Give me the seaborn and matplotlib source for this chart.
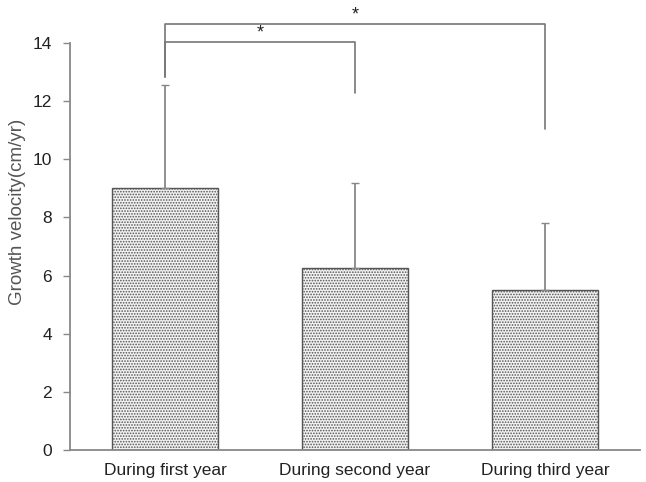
import matplotlib
matplotlib.use("Agg")
import matplotlib.pyplot as plt
import seaborn as sns
import pandas as pd

categories = ["During first year", "During second year", "During third year"]
means = [9.0, 6.27, 5.5]
sds = [3.55, 2.92, 2.32]
y_ticks = [0, 2, 4, 6, 8, 10, 12, 14]

sns.set_theme(style="white")
plt.rcParams['font.family'] = ['Liberation Sans', 'DejaVu Sans']
plt.rcParams['hatch.color'] = '#9a9a9a'
plt.rcParams['hatch.linewidth'] = 0.8

df = pd.DataFrame({"period": categories, "velocity": means})

fig = plt.figure(figsize=(6.46, 4.82), dpi=100)
ax = fig.add_axes([70/646, 1-450/482, 570/646, 407/482])

sns.barplot(data=df, x="period", y="velocity", ax=ax, color="#ececec",
            width=0.56, edgecolor="#555555", linewidth=1.0, errorbar=None,
            saturation=1)
for p in ax.patches:
    p.set_hatch('......')
    p.set_facecolor('#f2f2f2')

x = list(range(len(categories)))
ax.errorbar(x, means, yerr=[[0]*3, sds], fmt='none', ecolor='#888888',
            elinewidth=1.3, capsize=3, capthick=1.0)

ax.set_ylim(0, 14)
ax.set_xlim(-0.5, 2.5)
ax.set_yticks(y_ticks)
ax.set_yticklabels([str(t) for t in y_ticks], fontsize=12.5, color='#222222')
ax.set_xticks(x)
ax.set_xticklabels(categories, fontsize=12.5, color='#222222')
ax.set_xticks([0.5, 1.5, 2.5], minor=True)
ax.tick_params(axis='x', which='major', length=0, pad=9)
ax.tick_params(axis='x', which='minor', length=4, direction='in', color='#888888', width=1)
ax.tick_params(axis='y', which='major', length=5, direction='out', color='#888888', width=1, left=True, pad=8)
ax.set_xlabel("")
ax.set_ylabel("Growth velocity(cm/yr)", fontsize=13.5, color='#555555')
ax.yaxis.set_label_coords(-0.077, 0.585)

for s in ['top', 'right']:
    ax.spines[s].set_visible(False)
for s in ['left', 'bottom']:
    ax.spines[s].set_color('#888888')
    ax.spines[s].set_linewidth(1.3)

# significance brackets
lc = '#777777'
ax.plot([0, 0, 2, 2], [12.83, 14.65, 14.65, 11.04], color=lc, lw=1.2, clip_on=False)
ax.plot([0, 0, 1, 1], [12.83, 14.03, 14.03, 12.28], color=lc, lw=1.2, clip_on=False)
ax.text(1.0, 14.66, '*', ha='center', va='bottom', fontsize=13, color='#222222')
ax.text(0.5, 14.04, '*', ha='center', va='bottom', fontsize=13, color='#222222')

fig.savefig("out.png", dpi=100)
